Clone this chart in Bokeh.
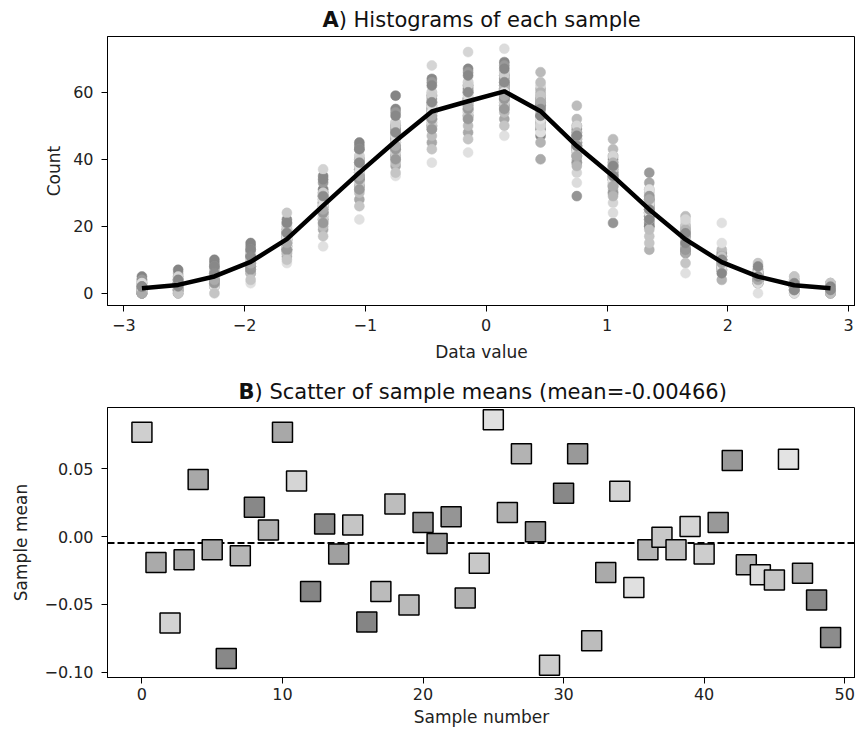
import numpy as np
from bokeh.plotting import figure
from bokeh.models import Label, FixedTicker, Span, ColumnDataSource
from bokeh.layouts import column
from bokeh.embed import file_html
from bokeh.resources import INLINE

FONT = "DejaVu Sans"

# ---------------- data: panel A ----------------
bin_centers = [-2.85, -2.55, -2.25, -1.95, -1.65, -1.35, -1.05, -0.75, -0.45, -0.15,
               0.15, 0.45, 0.75, 1.05, 1.35, 1.65, 1.95, 2.25, 2.55, 2.85]

# counts of each of the 50 samples in each bin (one list per bin)
counts_b01 = [1,2,0,3,1,0,4,2,1,1, 0,2,1,3,0,2,5,1,1,2, 1,0,2,3,1,0,1,2,4,1, 1,0,2,1,3,2,0,1,2,1, 2,1,0,1,3,2,1,0,2,2]
counts_b02 = [2,4,3,1,2,6,3,2,5,1, 2,3,0,4,2,3,7,2,1,3, 2,1,4,2,3,1,2,0,3,4, 2,3,1,2,5,2,3,1,2,4, 3,2,1,3,2,0,2,3,4,2]
counts_b03 = [5,6,4,7,3,5,9,4,6,5, 3,4,2,6,5,7,10,4,5,6, 5,4,7,3,5,2,6,4,8,5, 4,6,3,5,7,4,5,3,6,5, 7,4,3,5,6,0,5,4,8,6]
counts_b04 = [9,11,8,12,7,10,14,9,10,8, 6,9,7,11,10,12,15,8,9,10, 9,8,11,7,10,3,9,8,13,10, 9,11,6,10,12,8,10,7,11,9, 12,8,7,9,10,4,10,9,13,11]
counts_b05 = [15,18,14,19,13,17,22,16,18,14, 11,16,13,18,17,20,13,15,16,17, 16,14,19,12,17,9,16,14,21,17, 15,18,12,17,20,14,17,24,18,16, 19,15,13,16,17,10,16,15,21,18]
counts_b06 = [25,29,23,30,22,27,35,26,28,24, 19,27,22,29,27,31,31,24,26,28, 26,24,30,21,27,14,26,23,33,27, 25,29,20,27,37,23,27,22,29,26, 30,24,21,26,28,17,26,25,34,29]
counts_b07 = [35,39,33,40,32,37,44,36,38,34, 28,37,32,39,37,41,45,34,36,38, 36,34,40,31,37,22,36,33,43,37, 35,39,30,37,41,33,37,32,39,36, 40,34,31,36,38,26,36,35,43,39]
counts_b08 = [44,48,42,50,41,46,55,45,47,43, 38,46,41,49,46,51,59,43,45,47, 45,43,50,40,46,35,45,42,54,46, 44,48,39,46,51,42,46,41,48,45, 50,43,40,45,47,36,45,44,53,48]
counts_b09 = [53,57,51,59,50,55,64,54,56,52, 45,55,50,58,55,60,54,52,54,56, 54,52,59,49,55,39,54,51,63,55, 53,57,47,55,60,51,55,50,57,68, 59,52,49,54,56,43,54,53,62,57]
counts_b10 = [56,61,54,62,53,58,67,57,60,55, 48,72,53,61,58,63,58,55,57,59, 57,55,62,52,58,42,57,54,66,58, 56,60,50,58,63,54,58,53,60,57, 62,55,52,57,59,46,57,56,65,60]
counts_b11 = [59,63,57,65,56,61,69,60,62,58, 52,61,56,64,61,66,62,58,60,62, 60,58,65,55,61,47,60,57,68,61, 59,63,54,61,66,57,61,56,63,60, 65,58,55,60,73,50,60,59,67,63]
counts_b12 = [52,55,58,50,54,61,49,53,56,57, 54,62,51,47,55,53,58,56,50,66, 54,52,57,59,55,48,53,60,54,51, 56,53,58,40,55,52,57,54,63,50, 55,53,56,45,54,59,52,57,53,55]
counts_b13 = [43,46,41,48,44,39,50,42,45,47, 44,36,43,49,41,46,44,52,40,45, 43,47,29,44,46,42,48,45,39,44, 47,43,56,41,45,44,38,46,43,50, 42,45,44,48,33,46,43,41,47,44]
counts_b14 = [34,37,32,39,35,30,41,33,36,38, 35,27,34,40,32,37,35,43,31,36, 34,38,21,35,37,33,39,36,30,35, 38,34,46,32,36,35,29,37,34,41, 33,36,35,39,24,37,34,32,38,35]
counts_b15 = [26,22,29,24,31,25,20,27,23,28, 33,25,21,24,27,17,26,30,25,22, 28,24,25,13,26,29,23,27,36,25, 20,26,24,28,22,31,25,27,19,24, 26,29,23,25,27,15,24,28,22,25]
counts_b16 = [15,18,16,13,20,16,14,17,19,15, 16,21,12,17,15,18,16,14,23,17, 15,13,18,16,20,6,17,15,14,19, 16,18,15,12,17,16,19,14,16,22, 15,17,13,16,18,9,16,17,15,18]
counts_b17 = [9,11,8,10,7,9,12,8,10,9, 8,10,7,9,11,8,9,13,10,8, 9,7,10,8,9,21,8,10,9,7, 11,9,8,10,9,15,8,9,10,7, 9,8,10,4,9,11,8,9,6,10]
counts_b18 = [5,4,6,5,3,7,5,4,6,5, 4,6,5,3,5,9,4,6,5,4, 5,6,4,5,7,5,4,6,3,5, 6,5,4,7,5,0,5,6,4,5, 5,4,6,5,3,5,6,4,8,5]
counts_b19 = [2,3,2,1,4,2,3,2,0,3, 2,5,2,3,1,2,3,2,4,2, 3,2,1,3,2,4,2,3,2,1, 3,2,4,2,3,0,2,3,2,4, 2,3,1,2,3,5,2,2,3,1]
counts_b20 = [1,2,1,0,2,1,3,1,2,1, 2,1,0,2,1,3,1,2,1,2, 1,2,1,3,1,2,1,0,2,1, 2,1,2,1,3,1,2,1,0,2, 1,2,1,2,1,3,2,1,2,1]

# ---------------- data: panel B ----------------
sample_means = [0.0771, -0.0190, -0.0638, -0.0170, 0.0422, -0.0096, -0.0900, -0.0141, 0.0217, 0.0050,
                0.0771, 0.0412, -0.0405, 0.0094, -0.0128, 0.0087, -0.0631, -0.0405, 0.0242, -0.0505,
                0.0104, -0.0050, 0.0148, -0.0453, -0.0197, 0.0863, 0.0178, 0.0612, 0.0037, -0.0949,
                0.0320, 0.0612, -0.0769, -0.0264, 0.0335, -0.0375, -0.0096, -0.0005, -0.0096, 0.0076,
                -0.0128, 0.0104, 0.0562, -0.0207, -0.0281, -0.0320, 0.0572, -0.0271, -0.0468, -0.0745]

sample_grays = ["#cfcfcf", "#aaaaaa", "#d3d3d3", "#aaaaaa", "#a8a8a8", "#a9a9a9", "#888888", "#b5b5b5", "#888888", "#b0b0b0",
                "#a8a8a8", "#d5d5d5", "#858585", "#898989", "#a0a0a0", "#c5c5c5", "#858585", "#bbbbbb", "#bdbdbd", "#bababa",
                "#959595", "#999999", "#959595", "#b3b3b3", "#c8c8c8", "#e0e0e0", "#b0b0b0", "#b3b3b3", "#999999", "#cccccc",
                "#888888", "#999999", "#bcbcbc", "#aaaaaa", "#d3d3d3", "#e0e0e0", "#b5b5b5", "#c8c8c8", "#bebebe", "#d5d5d5",
                "#cdcdcd", "#999999", "#999999", "#b3b3b3", "#dcdcdc", "#c5c5c5", "#e3e3e3", "#ababab", "#888888", "#8c8c8c"]

title_a_bold = "A"
title_a_rest = ")  Histograms of each sample"
title_b_bold = "B"
title_b_rest = ")  Scatter of sample means (mean=-0.00466)"

xticks_a = [-3, -2, -1, 0, 1, 2, 3]
xlabels_a = ["\u22123", "\u22122", "\u22121", "0", "1", "2", "3"]
yticks_a = [0, 20, 40, 60]
ylabels_a = ["0", "20", "40", "60"]
xticks_b = [0, 10, 20, 30, 40, 50]
xlabels_b = ["0", "10", "20", "30", "40", "50"]
yticks_b = [-0.1, -0.05, 0, 0.05]
ylabels_b = ["\u22120.10", "\u22120.05", "0.00", "0.05"]

# ---------------- assemble ----------------
counts = np.array([counts_b01, counts_b02, counts_b03, counts_b04, counts_b05,
                   counts_b06, counts_b07, counts_b08, counts_b09, counts_b10,
                   counts_b11, counts_b12, counts_b13, counts_b14, counts_b15,
                   counts_b16, counts_b17, counts_b18, counts_b19, counts_b20])  # (20, 50)
n_bins, n_samples = counts.shape

px, py, pc = [], [], []
for s in range(n_samples):
    for b in range(n_bins):
        px.append(bin_centers[b])
        py.append(counts[b, s])
        pc.append(sample_grays[s])
mean_hist = counts.mean(axis=1)

W = 855
XR_A = (-3.135, 3.057)
XR_B = (-2.45, 50.77)


def style(p):
    p.background_fill_color = "white"
    p.border_fill_color = "white"
    p.grid.visible = False
    p.outline_line_color = "black"
    p.outline_line_width = 1
    for ax in (p.xaxis[0], p.yaxis[0]):
        ax.axis_line_color = "black"
        ax.axis_line_width = 1
        ax.major_tick_line_color = "black"
        ax.major_tick_out = 6
        ax.major_tick_in = 0
        ax.minor_tick_out = 0
        ax.minor_tick_in = 0
        ax.major_label_text_font = FONT
        ax.major_label_text_font_size = "16px"
        ax.major_label_text_color = "#222222"
        ax.axis_label_text_font = FONT
        ax.axis_label_text_font_size = "17px"
        ax.axis_label_text_font_style = "normal"
        ax.axis_label_text_color = "#222222"


def title_strip(height, x_range, x_anchor, y_base, bold, rest):
    t = figure(width=W, height=height, x_range=x_range, y_range=(0, 1),
               output_backend="svg", toolbar_location=None,
               x_axis_location=None, y_axis_location=None,
               min_border_left=107, min_border_right=0, min_border_top=0, min_border_bottom=0)
    t.outline_line_color = None
    t.grid.visible = False
    t.background_fill_color = "white"
    t.border_fill_color = "white"
    t.add_layout(Label(x=x_anchor, y=y_base, text=bold, text_align="right", text_baseline="alphabetic",
                       text_font=FONT, text_font_size="21px", text_font_style="bold", text_color="#111111"))
    t.add_layout(Label(x=x_anchor, y=y_base, text=rest, text_align="left", text_baseline="alphabetic",
                       text_font=FONT, text_font_size="21px", text_color="#111111"))
    return t


# ---------------- panel A ----------------
tA = title_strip(35, XR_A, -1.221, 0.436, title_a_bold, title_a_rest)

p1 = figure(width=W, height=335, x_range=XR_A, y_range=(-3.65, 76.65),
            output_backend="svg", toolbar_location=None,
            min_border_left=107, min_border_right=0, min_border_top=1, min_border_bottom=65)
style(p1)
p1.scatter(x=px, y=py, size=10, marker="circle", fill_color=pc, line_color=pc, line_width=0.5)
p1.line(x=bin_centers, y=mean_hist, line_color="black", line_width=4.5)
p1.xaxis.ticker = FixedTicker(ticks=xticks_a)
p1.xaxis.major_label_overrides = dict(zip(xticks_a, xlabels_a))
p1.yaxis.ticker = FixedTicker(ticks=yticks_a)
p1.yaxis.major_label_overrides = dict(zip(yticks_a, ylabels_a))
p1.xaxis.axis_label = "Data value"
p1.yaxis.axis_label = "Count"
p1.xaxis.major_label_standoff = 7
p1.yaxis.major_label_standoff = 8
p1.xaxis.axis_label_standoff = 8
p1.yaxis.axis_label_standoff = 6

# ---------------- panel B ----------------
tB = title_strip(36, XR_B, 8.01, 0.41, title_b_bold, title_b_rest)

p2 = figure(width=W, height=325, x_range=XR_B, y_range=(-0.1040, 0.0954),
            output_backend="svg", toolbar_location=None,
            min_border_left=107, min_border_right=0, min_border_top=1, min_border_bottom=54)
style(p2)
mean_of_means = float(np.mean(sample_means))
p2.add_layout(Span(location=mean_of_means, dimension="width", line_color="black",
                   line_width=2, line_dash="7 3", level="underlay"))
src = ColumnDataSource(dict(x=list(range(len(sample_means))), y=sample_means, c=sample_grays))
p2.scatter(x="x", y="y", source=src, marker="square", size=20, fill_color="c",
           line_color="black", line_width=1.5)
p2.xaxis.ticker = FixedTicker(ticks=xticks_b)
p2.xaxis.major_label_overrides = dict(zip(xticks_b, xlabels_b))
p2.yaxis.ticker = FixedTicker(ticks=yticks_b)
p2.yaxis.major_label_overrides = dict(zip(yticks_b, ylabels_b))
p2.xaxis.axis_label = "Sample number"
p2.yaxis.axis_label = "Sample mean"
p2.xaxis.major_label_standoff = 4
p2.yaxis.major_label_standoff = 8
p2.xaxis.axis_label_standoff = 4
p2.yaxis.axis_label_standoff = 10

layout = column(tA, p1, tB, p2, spacing=0)
open("out.html", "w").write(file_html(layout, INLINE))
